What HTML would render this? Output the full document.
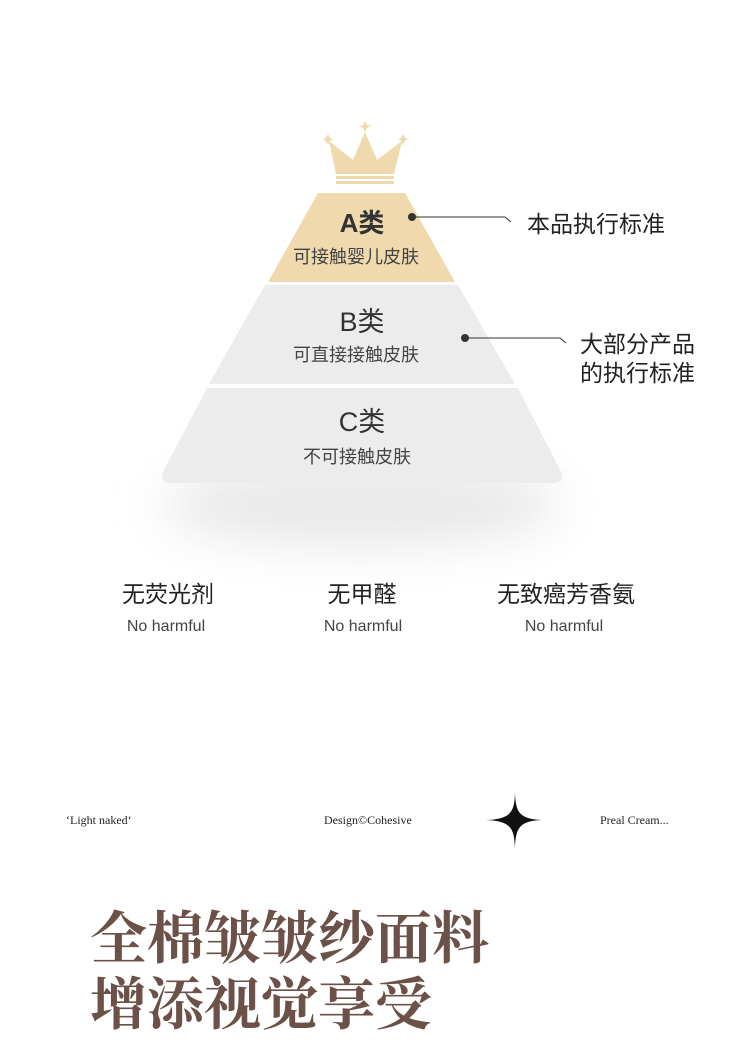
<!DOCTYPE html>
<html><head><meta charset="utf-8"><style>
body{margin:0;background:#fff;}
svg{display:block}
</style></head><body>
<svg width="750" height="1046" viewBox="0 0 750 1046" xmlns="http://www.w3.org/2000/svg">
<defs>
<filter id="blur" x="-50%" y="-50%" width="200%" height="200%"><feGaussianBlur stdDeviation="24"/></filter>
</defs>
<rect width="750" height="1046" fill="#fff"/>
<ellipse cx="362" cy="505" rx="200" ry="42" fill="#e8e8e8" filter="url(#blur)"/>
<g fill="#efd9ad">
<polygon points="329,141 353,160 365,132 377,160 402,141 394,174 336,174"/>
<rect x="336" y="176" width="58" height="3"/>
<rect x="336" y="181" width="58" height="3"/>
<polygon points="365,121 367,125 371,126 367,128 365,132 363,128 359,126 363,125"/>
<polygon points="328,134 330,138 333,139 330,141 328,145 326,141 323,139 326,138"/>
<polygon points="403,134 405,138 408,139 405,141 403,145 401,141 398,139 401,138"/>
</g>
<polygon points="318,193 405,193 455,282 268,282" fill="#efd9ad"/>
<polygon points="265,285 458,285 515,384 209,384" fill="#ececec"/>
<path d="M207,388 L518,388 L560,470 Q566,483 552,483 L172,483 Q158,483 164,470 Z" fill="#ececec"/>
<g font-family="Liberation Sans, Noto Sans CJK SC, sans-serif" text-anchor="middle" fill="#333">
<text x="362" y="232" font-size="26" font-weight="bold">A类</text>
<text x="356" y="263" font-size="18" fill="#444">可接触婴儿皮肤</text>
<text x="362" y="331" font-size="27">B类</text>
<text x="356" y="361" font-size="18" fill="#444">可直接接触皮肤</text>
<text x="362" y="431" font-size="27">C类</text>
<text x="357" y="463" font-size="18" fill="#444">不可接触皮肤</text>
</g>
<circle cx="412" cy="217" r="4" fill="#333"/>
<polyline points="412,217 505,217 511,222" fill="none" stroke="#333" stroke-width="1"/>
<circle cx="465" cy="338" r="4" fill="#333"/>
<polyline points="465,338 560,338 566,343" fill="none" stroke="#333" stroke-width="1"/>
<g font-family="Liberation Sans, Noto Sans CJK SC, sans-serif" font-size="23" fill="#222">
<text x="527" y="232">本品执行标准</text>
<text x="580" y="352">大部分产品</text>
<text x="580" y="381">的执行标准</text>
</g>
<g font-family="Liberation Sans, Noto Sans CJK SC, sans-serif" text-anchor="middle" fill="#222">
<text x="168" y="602" font-size="23">无荧光剂</text>
<text x="362" y="602" font-size="23">无甲醛</text>
<text x="566" y="602" font-size="23">无致癌芳香氨</text>
<text x="166" y="631" font-size="16" fill="#444">No harmful</text>
<text x="363" y="631" font-size="16" fill="#444">No harmful</text>
<text x="564" y="631" font-size="16" fill="#444">No harmful</text>
</g>
<g font-family="Liberation Serif, serif" font-size="12" fill="#222">
<text x="66" y="824">‘Light naked‘</text>
<text x="324" y="824">Design©Cohesive</text>
<text x="600" y="824">Preal Cream...</text>
</g>
<path d="M515,792 C515.5,812 519,819 542,820 C519,821 515.5,828 515,850 C514.5,828 511,821 486,820 C511,819 514.5,812 515,792 Z" fill="#111"/>
<g font-family="Liberation Serif, Noto Serif CJK SC, serif" font-weight="bold" font-size="57" fill="#6b5147">
<text x="90" y="958">全棉皱皱纱面料</text>
<text x="90" y="1024">增添视觉享受</text>
</g>
</svg>
</body></html>
